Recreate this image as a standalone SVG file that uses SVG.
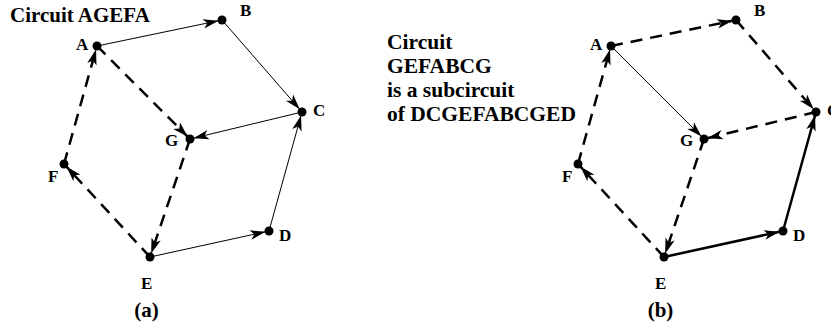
<svg xmlns="http://www.w3.org/2000/svg" width="831" height="328" viewBox="0 0 831 328">
  <style>
    text { font-family: "Liberation Serif", "Times New Roman", serif; font-weight: bold; fill: #000; }
    .cap { font-size: 21px; }
    .blk { font-size: 21.5px; }
    .lbl { font-size: 17px; }
    .dot { fill: #000; }
    .e { fill: none; stroke: #000; marker-end: url(#arr); }
    .thin { stroke-width: 1; }
    .thick { stroke-width: 2.5; }
    .dash { stroke-width: 2.5; stroke-dasharray: 12 8; }
  </style>
  <defs>
    <!-- indented arrowhead; tip stops at the rim of the target dot -->
    <marker id="arr" markerUnits="userSpaceOnUse" orient="auto" refX="0" refY="0"
            markerWidth="1" markerHeight="1" overflow="visible">
      <path d="M-3.5,0 L-19,-4.8 L-15,0 L-19,4.8 Z" fill="#000" stroke="none"/>
    </marker>
  </defs>

  <rect width="831" height="328" fill="#fff"/>

  <!-- (a) circuit AGEFA -->
  <text class="cap" x="10" y="22">Circuit AGEFA</text>
  <g id="edges-a">
    <line class="e thin" x1="97" y1="46" x2="222" y2="20"/>
    <line class="e thin" x1="222" y1="20" x2="302" y2="112"/>
    <line class="e thin" x1="302" y1="112" x2="190" y2="139"/>
    <line class="e dash" x1="97" y1="46" x2="190" y2="139"/>
    <line class="e dash" x1="190" y1="139" x2="150" y2="257"/>
    <line class="e dash" x1="150" y1="257" x2="64" y2="164"/>
    <line class="e dash" x1="64" y1="164" x2="97" y2="46"/>
    <line class="e thin" x1="150" y1="257" x2="269" y2="231"/>
    <line class="e thin" x1="269" y1="231" x2="302" y2="112"/>
  </g>
  <g id="a-A"><circle class="dot" cx="97" cy="46" r="4.5"/><text class="lbl" x="76" y="50">A</text></g>
  <g id="a-B"><circle class="dot" cx="222" cy="20" r="4.5"/><text class="lbl" x="240" y="16">B</text></g>
  <g id="a-C"><circle class="dot" cx="302" cy="112" r="4.5"/><text class="lbl" x="313" y="116">C</text></g>
  <g id="a-G"><circle class="dot" cx="190" cy="139" r="4.5"/><text class="lbl" x="165" y="146">G</text></g>
  <g id="a-F"><circle class="dot" cx="64" cy="164" r="4.5"/><text class="lbl" x="48" y="182">F</text></g>
  <g id="a-E"><circle class="dot" cx="150" cy="257" r="4.5"/><text class="lbl" x="141" y="289">E</text></g>
  <g id="a-D"><circle class="dot" cx="269" cy="231" r="4.5"/><text class="lbl" x="279" y="241">D</text></g>
  <text class="cap" x="146.5" y="317" text-anchor="middle">(a)</text>

  <!-- (b) subcircuit GEFABCG inside DCGEFABCGED -->
  <text class="blk" x="387" y="49">Circuit</text>
  <text class="blk" x="387" y="73">GEFABCG</text>
  <text class="blk" x="387" y="97">is a subcircuit</text>
  <text class="blk" x="387" y="121">of DCGEFABCGED</text>
  <g id="edges-b">
    <line class="e dash" x1="611" y1="46" x2="736" y2="20"/>
    <line class="e dash" x1="736" y1="20" x2="816" y2="112"/>
    <line class="e dash" x1="816" y1="112" x2="704" y2="139"/>
    <line class="e thin" x1="611" y1="46" x2="704" y2="139"/>
    <line class="e dash" x1="704" y1="139" x2="664" y2="257"/>
    <line class="e dash" x1="664" y1="257" x2="578" y2="164"/>
    <line class="e dash" x1="578" y1="164" x2="611" y2="46"/>
    <line class="e thick" x1="664" y1="257" x2="783" y2="231"/>
    <line class="e thick" x1="783" y1="231" x2="816" y2="112"/>
  </g>
  <g id="b-A"><circle class="dot" cx="611" cy="46" r="4.5"/><text class="lbl" x="590" y="50">A</text></g>
  <g id="b-B"><circle class="dot" cx="736" cy="20" r="4.5"/><text class="lbl" x="754" y="16">B</text></g>
  <g id="b-C"><circle class="dot" cx="816" cy="112" r="4.5"/><text class="lbl" x="827" y="116">C</text></g>
  <g id="b-G"><circle class="dot" cx="704" cy="139" r="4.5"/><text class="lbl" x="680" y="146">G</text></g>
  <g id="b-F"><circle class="dot" cx="578" cy="164" r="4.5"/><text class="lbl" x="562" y="182">F</text></g>
  <g id="b-E"><circle class="dot" cx="664" cy="257" r="4.5"/><text class="lbl" x="655" y="289">E</text></g>
  <g id="b-D"><circle class="dot" cx="783" cy="231" r="4.5"/><text class="lbl" x="793" y="241">D</text></g>
  <text class="cap" x="660.5" y="317" text-anchor="middle">(b)</text>
</svg>
